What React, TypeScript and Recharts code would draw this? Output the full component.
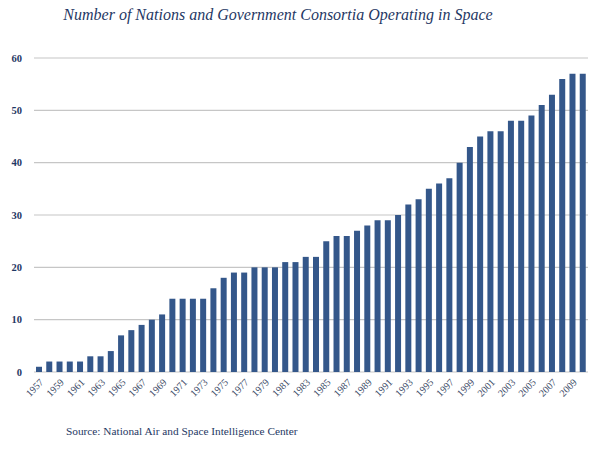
import React from 'react'
import { BarChart, Bar, XAxis, YAxis, CartesianGrid } from 'recharts'

const years = [
  1957, 1958, 1959, 1960, 1961, 1962, 1963, 1964, 1965, 1966,
  1967, 1968, 1969, 1970, 1971, 1972, 1973, 1974, 1975, 1976,
  1977, 1978, 1979, 1980, 1981, 1982, 1983, 1984, 1985, 1986,
  1987, 1988, 1989, 1990, 1991, 1992, 1993, 1994, 1995, 1996,
  1997, 1998, 1999, 2000, 2001, 2002, 2003, 2004, 2005, 2006,
  2007, 2008, 2009, 2010,
]

const nations = [
  1, 2, 2, 2, 2, 3, 3, 4, 7, 8,
  9, 10, 11, 14, 14, 14, 14, 16, 18, 19,
  19, 20, 20, 20, 21, 21, 22, 22, 25, 26,
  26, 27, 28, 29, 29, 30, 32, 33, 35, 36,
  37, 40, 43, 45, 46, 46, 48, 48, 49, 51,
  53, 56, 57, 57,
]

const yTicks = [0, 10, 20, 30, 40, 50, 60]

const title = 'Number of Nations and Government Consortia Operating in Space'
const source = 'Source: National Air and Space Intelligence Center'

const navy = '#1F3864'
const serif = 'Liberation Serif, DejaVu Serif, serif'

export default function App() {
  const data = years.map((y, i) => ({ year: String(y), pos: i + 0.5, value: nations[i] }))
  // tick marks sit on the boundaries between years
  const boundaries = Array.from({ length: years.length + 1 }, (_, i) => i)

  return (
    <div style={{ position: 'absolute', left: 0, top: 0, width: 600, height: 449, background: '#fff', fontFamily: serif }}>
      <div style={{ position: 'absolute', left: 0, width: 556, top: 6, textAlign: 'center', fontStyle: 'italic', fontSize: 16, color: navy }}>
        {title}
      </div>
      <BarChart width={600} height={449} data={data}
        margin={{ top: 58, right: 12, bottom: 37, left: 0 }}>
        <CartesianGrid vertical={false} stroke="#c6c6c6" strokeWidth={1.2} />
        <XAxis xAxisId="edges" type="number" dataKey="pos" domain={[0, years.length]} ticks={boundaries}
          tick={false} height={0} stroke="#a6a6a6" tickSize={4} />
        <XAxis xAxisId="cats" dataKey="year" interval={1} axisLine={false} tickLine={false}
          tickSize={0} tickMargin={6} height={40} angle={-45} textAnchor="end"
          tick={{ fill: '#3b4a66', fontSize: 10, fontFamily: serif }} />
        <YAxis domain={[0, 60]} ticks={yTicks} width={34} axisLine={false} tickLine={false}
          tickSize={0} tickMargin={12}
          tick={{ fill: navy, fontSize: 10.5, fontWeight: 700, fontFamily: serif }} />
        <Bar xAxisId="cats" dataKey="value" fill="#34578A" barSize={6} isAnimationActive={false} />
      </BarChart>
      <div style={{ position: 'absolute', left: 66, top: 425, fontSize: 11.3, color: navy }}>
        {source}
      </div>
    </div>
  )
}
